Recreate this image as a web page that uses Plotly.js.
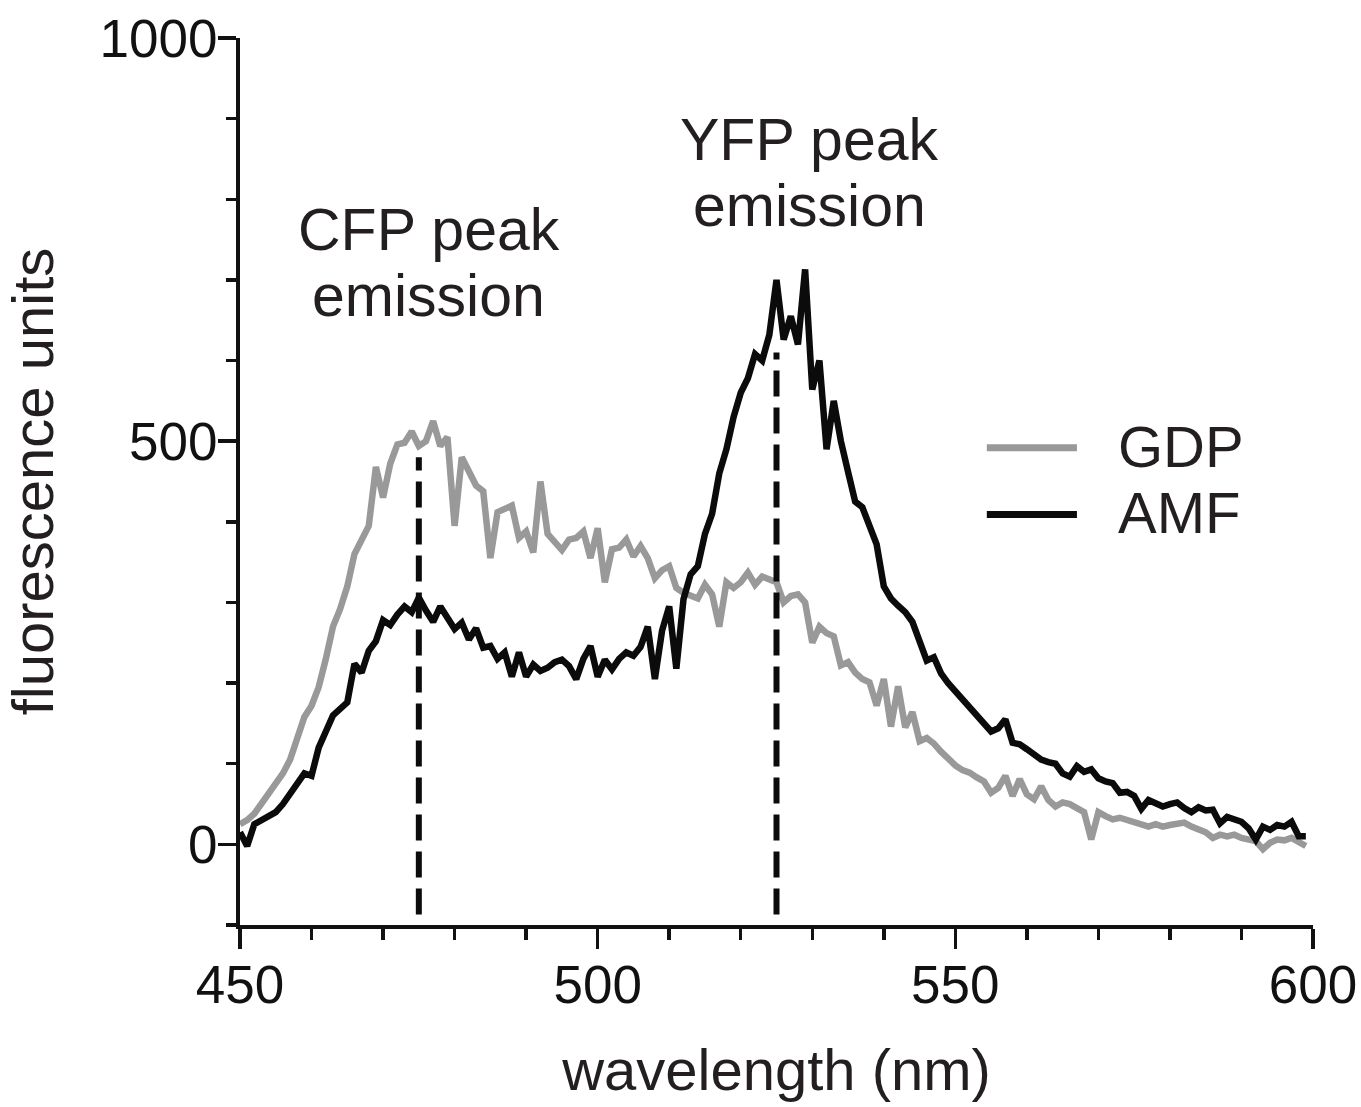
<!DOCTYPE html>
<html>
<head>
<meta charset="utf-8">
<script src="https://cdn.plot.ly/plotly-3.0.1.min.js"></script>
<style>html,body{margin:0;padding:0;background:#fff;}#chart{width:1361px;height:1107px;}</style>
</head>
<body>
<div id="chart"></div>
<script>
// wavelength (nm), 1 nm steps from 450 to 599
const wavelength = [];
for (let w = 450; w <= 599; w++) wavelength.push(w);

// GDP series (fluorescence units)
const gdp = [
  25, 30, 38, 50, 62, 75, 88, 105, 130, 158,          // 450-459
  172, 195, 230, 270, 292, 320, 360, 380, 395, 468,   // 460-469
  430, 472, 496, 498, 512, 494, 500, 525, 494, 505,   // 470-479
  395, 480, 462, 445, 438, 355, 412, 416, 420, 380,   // 480-489
  388, 362, 450, 385, 375, 365, 378, 380, 388, 355,   // 490-499
  392, 325, 366, 368, 378, 357, 370, 355, 330, 340,   // 500-509
  345, 318, 312, 308, 305, 322, 310, 270, 325, 318,   // 510-519
  325, 337, 322, 332, 328, 325, 300, 308, 310, 300,   // 520-529
  250, 270, 262, 258, 222, 226, 213, 205, 201, 172,   // 530-539
  205, 146, 196, 145, 164, 128, 132, 125, 115, 105,   // 540-549
  98, 92, 89, 83, 78, 64, 70, 85, 60, 81,             // 550-559
  62, 56, 72, 55, 47, 52, 50, 45, 40, 6,              // 560-569
  40, 35, 31, 33, 30, 28, 24, 22, 25, 22,             // 570-579
  24, 26, 27, 22, 18, 15, 8, 12, 10, 12,              // 580-589
  8, 6, 4, -6, 2, 6, 5, 8, 2, -2                      // 590-599
];

// AMF series (fluorescence units)
const amf = [
  15, -2, 25, 30, 35, 40, 50, 62, 75, 88,             // 450-459
  85, 120, 140, 160, 168, 176, 224, 213, 240, 252,    // 460-469
  278, 272, 285, 295, 288, 306, 290, 276, 295, 280,   // 470-479
  267, 275, 254, 268, 244, 246, 230, 238, 208, 238,   // 480-489
  208, 223, 215, 219, 226, 229, 221, 205, 230, 246,   // 490-499
  208, 229, 217, 230, 238, 234, 245, 270, 205, 265,   // 500-509
  295, 218, 304, 335, 345, 385, 410, 460, 490, 530,   // 510-519
  560, 578, 608, 600, 632, 700, 626, 655, 620, 713,   // 520-529
  564, 600, 490, 550, 500, 462, 425, 418, 395, 372,   // 530-539
  320, 305, 296, 288, 276, 250, 228, 232, 212, 200,   // 540-549
  190, 180, 168, 160, 148, 140, 144, 155, 126, 124,   // 550-559
  118, 112, 105, 102, 100, 88, 84, 97, 90, 93,        // 560-569
  82, 78, 76, 64, 65, 60, 44, 55, 50, 47,             // 570-579
  50, 52, 45, 40, 46, 42, 43, 26, 34, 32,             // 580-589
  28, 20, 6, 22, 18, 24, 22, 28, 10, 10               // 590-599
];

// peak emission markers
const peakNames = ['CFP', 'YFP'];
const peakWavelength = [475, 525];
const peakTop = [480, 610];
const peakBottom = -87;

const seriesNames = ['GDP', 'AMF'];
const seriesColors = ['#999999', '#0b0b0b'];

const FONT = 'Liberation Sans, Arial, Helvetica, sans-serif';
const TEXT = '#231f20';

const traces = [
  {x: wavelength, y: gdp, mode: 'lines', name: seriesNames[0],
   line: {color: seriesColors[0], width: 6.5}, showlegend: false},
  {x: wavelength, y: amf, mode: 'lines', name: seriesNames[1],
   line: {color: seriesColors[1], width: 6.5}, showlegend: false}
];
peakWavelength.forEach((w, i) => {
  traces.push({x: [w, w], y: [peakBottom, peakTop[i]], mode: 'lines',
    name: peakNames[i] + ' peak', showlegend: false,
    line: {color: '#0b0b0b', width: 6, dash: '26px,11px'}});
});

const annotations = [
  {x: 476.4, y: 762, text: 'CFP peak'},
  {x: 476.4, y: 680, text: 'emission'},
  {x: 529.6, y: 874, text: 'YFP peak'},
  {x: 529.6, y: 792, text: 'emission'},
].map(a => Object.assign({xref: 'x', yref: 'y', showarrow: false,
  xanchor: 'center', yanchor: 'middle', font: {family: FONT, size: 59, color: TEXT}}, a));

// custom legend
const legendY = [492, 409];
seriesNames.forEach((n, i) => {
  annotations.push({xref: 'x', yref: 'y', x: 572.4, y: legendY[i] + 2, text: n,
    showarrow: false, xanchor: 'left', yanchor: 'middle',
    font: {family: FONT, size: 58, color: TEXT}});
});
const shapes = seriesNames.map((n, i) => ({
  type: 'line', xref: 'x', yref: 'y', x0: 554.4, x1: 567.0, y0: legendY[i], y1: legendY[i],
  line: {color: seriesColors[i], width: 7}
}));

const layout = {
  width: 1361, height: 1107,
  margin: {l: 240, r: 48, t: 38, b: 182},
  paper_bgcolor: '#ffffff', plot_bgcolor: '#ffffff',
  font: {family: FONT, color: TEXT},
  showlegend: false,
  xaxis: {
    range: [450, 600], showgrid: false, zeroline: false,
    showline: true, linecolor: '#111', linewidth: 4,
    ticks: 'outside', ticklen: 20, tickwidth: 3.5, tickcolor: '#111',
    tick0: 450, dtick: 50, ticklabelstandoff: -10,
    minor: {dtick: 10, ticks: 'outside', ticklen: 11, tickwidth: 3.5, tickcolor: '#111', showgrid: false},
    tickfont: {family: FONT, size: 53, color: '#111'},
    title: {text: 'wavelength (nm)', font: {family: FONT, size: 58, color: TEXT}, standoff: 38}
  },
  yaxis: {
    range: [-100, 1000], showgrid: false, zeroline: false,
    showline: true, linecolor: '#111', linewidth: 4,
    ticks: 'outside', ticklen: 18, tickwidth: 3.5, tickcolor: '#111',
    tick0: 0, dtick: 500, ticklabelstandoff: -10,
    minor: {dtick: 100, ticks: 'outside', ticklen: 10, tickwidth: 3.5, tickcolor: '#111', showgrid: false},
    tickfont: {family: FONT, size: 53, color: '#111'},
    title: {text: 'fluorescence units', font: {family: FONT, size: 58, color: TEXT}, standoff: 50}
  },
  annotations: annotations,
  shapes: shapes
};

Plotly.newPlot('chart', traces, layout, {staticPlot: true, displayModeBar: false});
</script>
</body>
</html>
